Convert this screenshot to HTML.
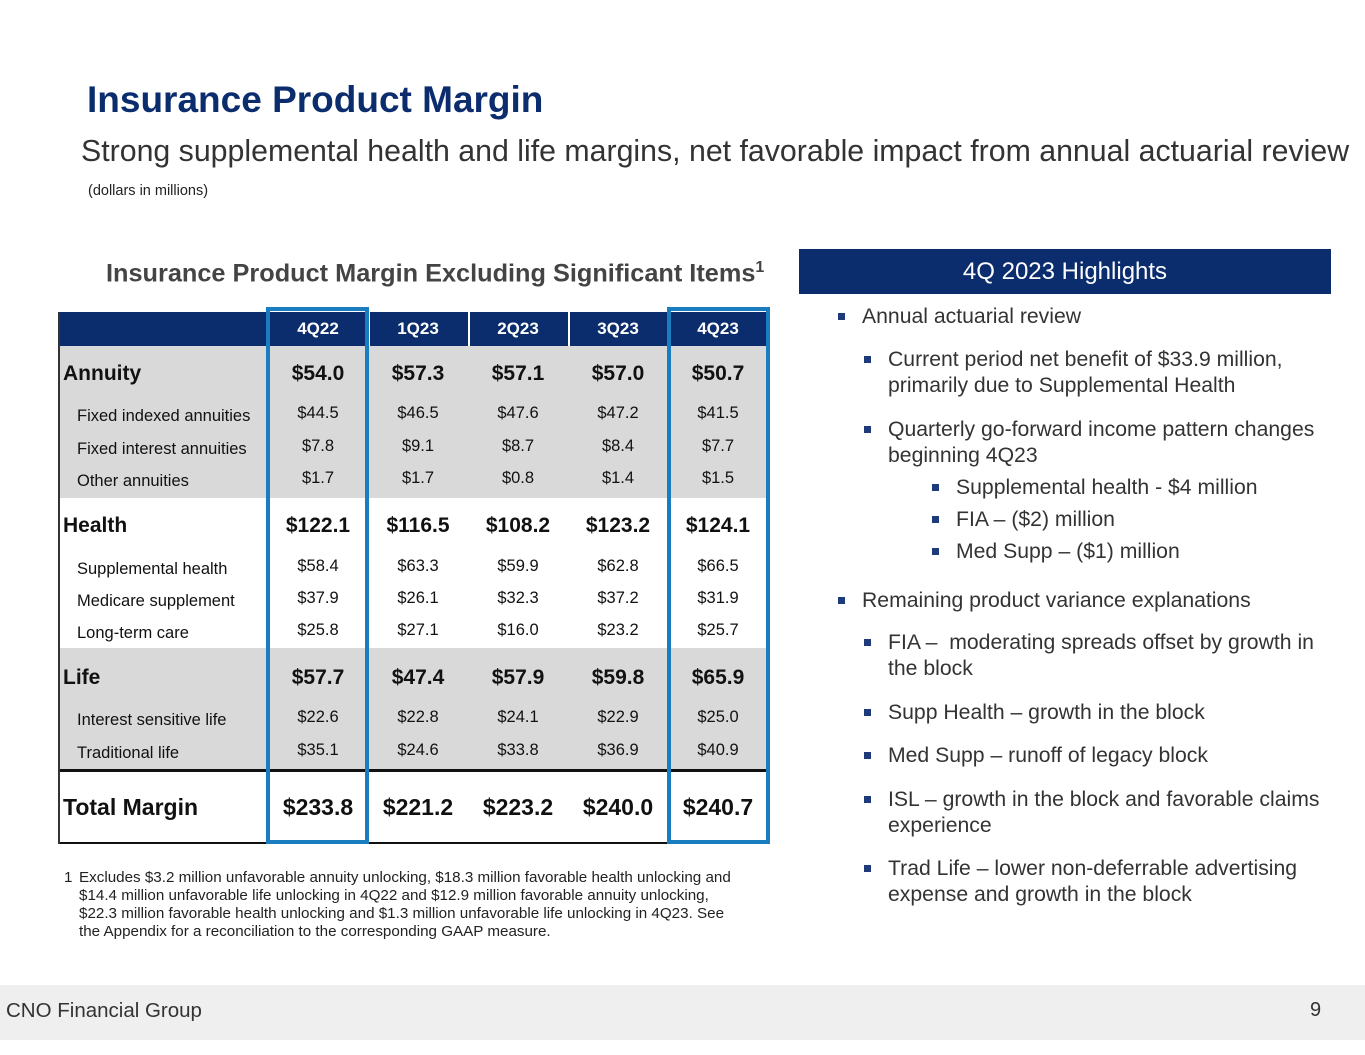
<!DOCTYPE html>
<html><head><meta charset="utf-8"><style>
body{margin:0;width:1365px;height:1055px;position:relative;background:#fff;font-family:"Liberation Sans",Arial,sans-serif;overflow:hidden}
.a{position:absolute;white-space:nowrap}
.c{position:absolute;text-align:center;width:100px;white-space:nowrap}
.bul{position:absolute;width:7px;height:7px;background:#1f3a7a}
.bt{position:absolute;font-size:21.2px;line-height:26px;color:#333;white-space:nowrap}
</style></head><body>
<div class="a" style="left:87px;top:79px;font-size:37px;font-weight:bold;color:#0b2d6e">Insurance Product Margin</div>
<div class="a" style="left:81px;top:135px;font-size:30.3px;color:#333">Strong supplemental health and life margins, net favorable impact from annual actuarial review</div>
<div class="a" style="left:88px;top:183px;font-size:14.5px;color:#222">(dollars in millions)</div>
<div class="a" style="left:106px;top:259px;font-size:25.3px;font-weight:bold;color:#444">Insurance Product Margin Excluding Significant Items<sup style="font-size:16px">1</sup></div>

<div id="tbl"></div>

<div class="a" style="left:64px;top:869px;font-size:15.2px;line-height:18px;color:#222">1</div>
<div class="a" style="left:79px;top:869px;font-size:15.2px;line-height:18px;color:#222">Excludes $3.2 million unfavorable annuity unlocking, $18.3 million favorable health unlocking and<br>$14.4 million unfavorable life unlocking in 4Q22 and $12.9 million favorable annuity unlocking,<br>$22.3 million favorable health unlocking and $1.3 million unfavorable life unlocking in 4Q23. See<br>the Appendix for a reconciliation to the corresponding GAAP measure.</div>

<div class="a" style="left:799px;top:249px;width:532px;height:45px;background:#0b2d6e;color:#fff;font-size:24px;line-height:45px;text-align:center">4Q 2023 Highlights</div>
<div id="hl"></div>

<div class="a" style="left:0;top:985px;width:1365px;height:55px;background:#efefef"></div>
<div class="a" style="left:6px;top:999px;font-size:20.5px;color:#333">CNO Financial Group</div>
<div class="a" style="left:1310px;top:999px;font-size:20px;color:#333">9</div>

<script>
const quarters=["4Q22","1Q23","2Q23","3Q23","4Q23"];
const rows=[
 ["Annuity",["$54.0","$57.3","$57.1","$57.0","$50.7"],1,375],
 ["Fixed indexed annuities",["$44.5","$46.5","$47.6","$47.2","$41.5"],0,417],
 ["Fixed interest annuities",["$7.8","$9.1","$8.7","$8.4","$7.7"],0,450],
 ["Other annuities",["$1.7","$1.7","$0.8","$1.4","$1.5"],0,482],
 ["Health",["$122.1","$116.5","$108.2","$123.2","$124.1"],1,527],
 ["Supplemental health",["$58.4","$63.3","$59.9","$62.8","$66.5"],0,570],
 ["Medicare supplement",["$37.9","$26.1","$32.3","$37.2","$31.9"],0,602],
 ["Long-term care",["$25.8","$27.1","$16.0","$23.2","$25.7"],0,634],
 ["Life",["$57.7","$47.4","$57.9","$59.8","$65.9"],1,679],
 ["Interest sensitive life",["$22.6","$22.8","$24.1","$22.9","$25.0"],0,721],
 ["Traditional life",["$35.1","$24.6","$33.8","$36.9","$40.9"],0,754],
 ["Total Margin",["$233.8","$221.2","$223.2","$240.0","$240.7"],2,808]
];
const t=document.getElementById('tbl');
function box(x,y,w,h,st,name){const d=document.createElement('div');d.className='a';d.style.cssText=`left:${x}px;top:${y}px;width:${w}px;height:${h}px;${st}`;


t.appendChild(d);return d;}
box(58,312,710,34,'background:#0b2d6e','header-row');
box(58,346,710,152,'background:#d9d9d9','annuity-band');
box(58,648,710,122,'background:#d9d9d9','life-band');
box(58,769,710,3,'background:#111','total-divider');
box(58,842,710,2,'background:#111','table-bottom');
box(58,312,2,532,'background:#333','table-left-edge');
[368,468,568,668].forEach(x=>box(x,312,2,34,'background:#fff','header-sep'));
const cx=[318,418,518,618,718];
quarters.forEach((q,i)=>{const d=document.createElement('div');d.className='c';d.textContent=q;
d.style.cssText=`left:${cx[i]-50}px;top:319px;font-size:17px;font-weight:bold;color:#fff`;


t.appendChild(d);});
rows.forEach(r=>{const [lab,vals,lvl,y]=r;
 const fs=lvl==2?23:lvl==1?21:16.5;
 const l=document.createElement('div');l.className='a';l.textContent=lab;
 l.style.cssText=`left:${lvl?63:77}px;top:${y-fs*0.6}px;font-size:${fs}px;${lvl?'font-weight:bold;':''}color:#111`;
 
 
 t.appendChild(l);
 vals.forEach((v,i)=>{const d=document.createElement('div');d.className='c';d.textContent=v;
  d.style.cssText=`left:${cx[i]-50}px;top:${y-fs*0.6-(lvl?0:3)}px;font-size:${fs}px;${lvl?'font-weight:bold;':''}color:#111`;
  
  
  t.appendChild(d);});
});
box(266,307,103,537,'border:4px solid #1a7dc0;box-sizing:border-box','highlight-4q22');
box(667,307,103,537,'border:4px solid #1a7dc0;box-sizing:border-box','highlight-4q23');

const hl=document.getElementById('hl');
const items=[
 [1,317,["Annual actuarial review"]],
 [2,360,["Current period net benefit of $33.9 million,","primarily due to Supplemental Health"]],
 [2,430,["Quarterly go-forward income pattern changes","beginning 4Q23"]],
 [3,488,["Supplemental health - $4 million"]],
 [3,520,["FIA – ($2) million"]],
 [3,552,["Med Supp – ($1) million"]],
 [1,601,["Remaining product variance explanations"]],
 [2,643,["FIA –  moderating spreads offset by growth in","the block"]],
 [2,713,["Supp Health – growth in the block"]],
 [2,756,["Med Supp – runoff of legacy block"]],
 [2,800,["ISL – growth in the block and favorable claims","experience"]],
 [2,869,["Trad Life – lower non-deferrable advertising","expense and growth in the block"]]
];
const sx={1:838,2:864,3:932},tx={1:862,2:888,3:956};
items.forEach(it=>{const [lv,y,lines]=it;
 const b=document.createElement('div');b.className='bul';b.style.left=sx[lv]+'px';b.style.top=(y-4)+'px';
 
 
 hl.appendChild(b);
 const d=document.createElement('div');d.className='bt';d.style.left=tx[lv]+'px';d.style.top=(y-13)+'px';
 d.style.whiteSpace='pre';
 d.innerHTML=lines.join('<br>');
 
 
 hl.appendChild(d);});
</script>
</body></html>
